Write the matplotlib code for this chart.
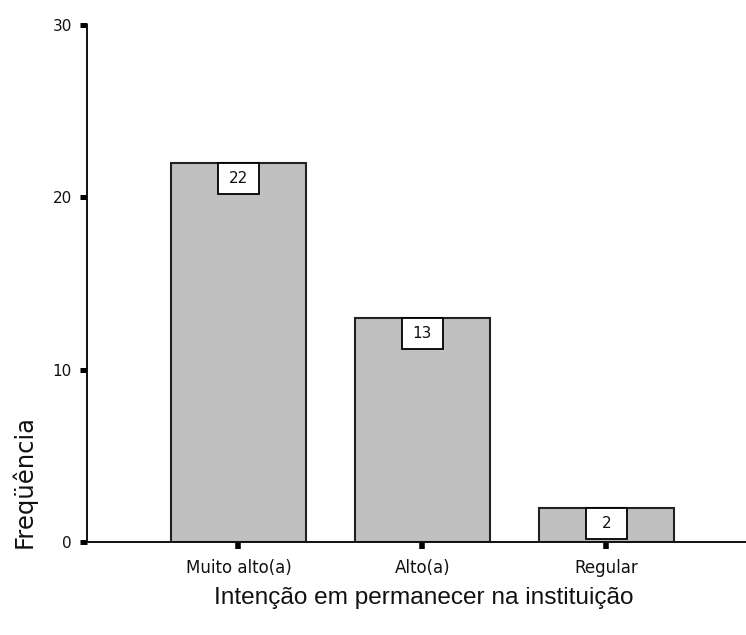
import matplotlib
matplotlib.use("Agg")
import matplotlib.pyplot as plt
import matplotlib.transforms as mtransforms
from matplotlib.patches import Rectangle

categories = ["Muito alto(a)", "Alto(a)", "Regular"]
values = [22, 13, 2]
yticks = [0, 10, 20, 30]
xlabel = "Intenção em permanecer na instituição"
ylabel = "Freqüência"

W, H = 746, 635
fig = plt.figure(figsize=(W / 100, H / 100), dpi=100)
ax = fig.add_axes([87 / W, 1 - 542 / H, 1 - 87 / W, (542 - 25) / H])

x = list(range(len(categories)))
ax.bar(x, values, width=0.734, color="#c0c0c0", edgecolor="#222222", linewidth=1.5, zorder=2)

ax.set_xlim(-0.823, 2.759)
ax.set_ylim(0, 30)
ax.set_yticks(yticks)
ax.set_xticks(x)
ax.set_xticklabels(categories, fontsize=12, family="DejaVu Sans", color="#111111")
ax.set_yticklabels([str(t) for t in yticks], fontsize=11, family="DejaVu Sans", color="#111111")

ax.tick_params(axis="y", direction="out", length=5, width=3.6, pad=6, color="black")
ax.tick_params(axis="x", direction="out", length=5, width=4, pad=7, color="black")

for s in ["top", "right"]:
    ax.spines[s].set_visible(False)
for s in ["left", "bottom"]:
    ax.spines[s].set_linewidth(1.4)
    ax.spines[s].set_color("#111111")
    ax.spines[s].set_zorder(3)

# value boxes at the top of each bar
bw, bh = 0.41, 0.31
for xi, v in zip(x, values):
    tr = fig.dpi_scale_trans + mtransforms.ScaledTranslation(xi, v, ax.transData)
    ax.add_patch(Rectangle((-bw / 2, -bh), bw, bh, transform=tr, facecolor="white",
                           edgecolor="black", linewidth=1.3, zorder=4, clip_on=False))
    ax.text(0, -bh / 2, str(v), transform=tr, ha="center", va="center",
            fontsize=11, family="DejaVu Sans", color="#111111", zorder=5)

fig.text(24 / W, 1 - 481 / H, ylabel, rotation=90, ha="center", va="center",
         fontsize=17.5, family="DejaVu Sans", color="#111111")
fig.text(424 / W, 1 - 598 / H, xlabel, ha="center", va="center",
         fontsize=17.6, family="Liberation Sans", color="#111111")

fig.savefig("out.png", dpi=100)
